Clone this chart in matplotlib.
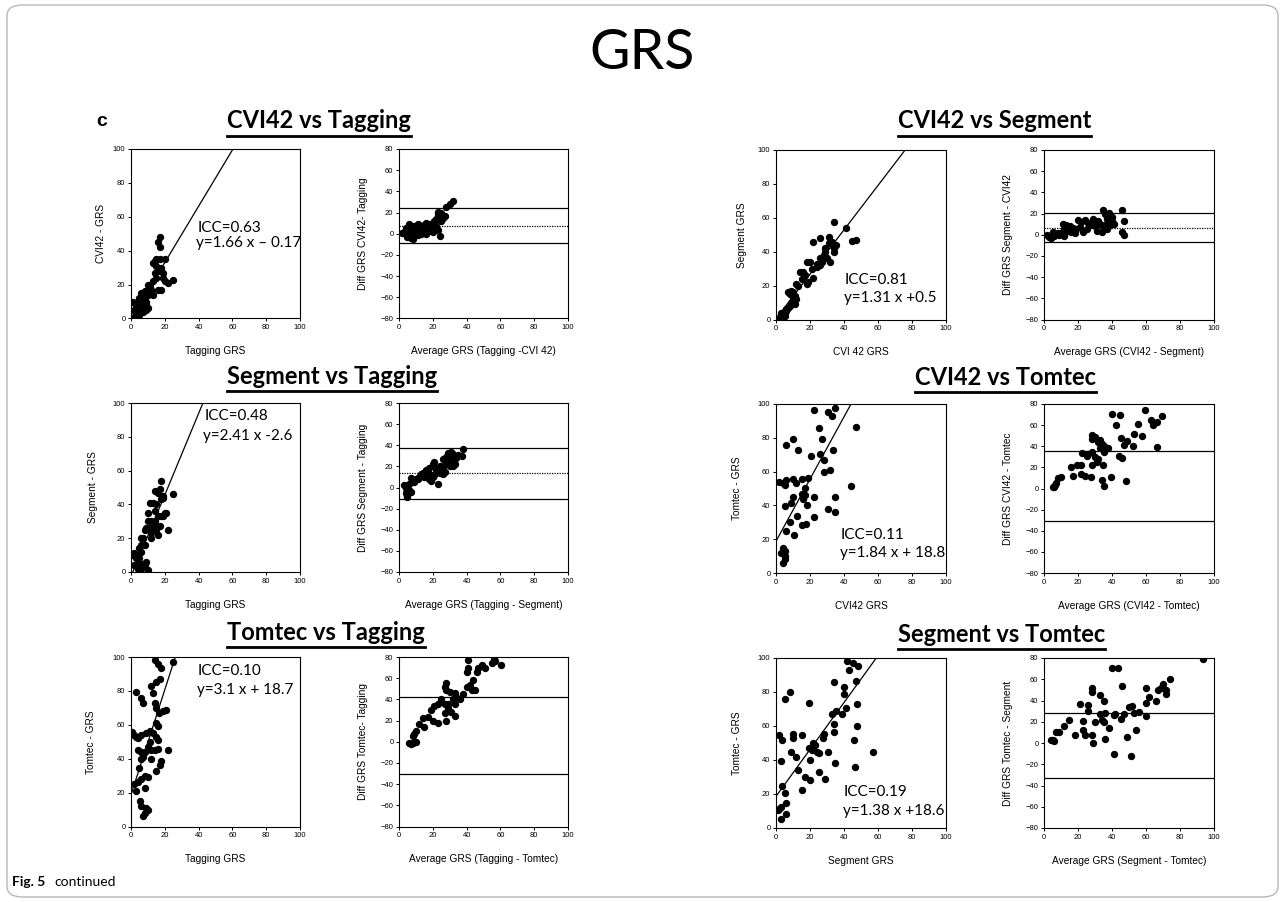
import matplotlib as mpl
mpl.use('Agg')
import matplotlib.pyplot as plt
from matplotlib.lines import Line2D
from matplotlib.patches import FancyBboxPatch

# ---- data ----
# CVI42 vs Tagging
cvi_tag_x = [1, 2, 3, 4, 5, 5, 6, 6, 7, 7, 8, 8, 9, 9, 10, 10, 11, 12, 13, 14, 14, 15, 15, 16, 17, 17,
             17, 18, 18, 19, 20, 20, 22, 25, 16, 13, 11, 4, 3, 2, 6, 7, 8, 9, 5, 4, 10, 12, 15, 16, 19, 13]
cvi_tag_y = [10, 5, 3, 8, 12, 2, 6, 15, 10, 4, 12, 16, 8, 5, 20, 14, 18, 15, 33, 34, 27, 24, 31, 45, 48, 35,
             42, 30, 17, 27, 35, 22, 21, 23, 17, 22, 19, 3, 8, 1, 9, 13, 7, 10, 7, 10, 6, 17, 35, 28, 24, 14]
cvi_tag_avg = [32, 30, 28, 25, 23, 22, 24, 26, 21, 24, 20, 18, 16, 15, 13, 11, 10, 9, 8, 7, 6, 5, 5, 4, 3,
               2, 6, 7, 8, 9, 10, 12, 14, 17, 19, 22, 23, 21, 23, 20, 11, 13, 15, 16, 18, 6, 4, 7, 25, 27]
cvi_tag_diff = [31, 28, 25, 20, 21, 14, 16, 15, 10, -2, 5, 3, 10, 5, 7, 9, 4, 2, -5, -2, 9, 4, -3, 0, 2,
                1, -1, 5, 3, 7, 1, 3, 2, 6, 8, 7, 4, 12, 19, 2, -1, 0, 8, 0, 9, 3, 5, -4, 12, 17]

# CVI42 vs Segment
cvi_seg_x = [34, 41, 44.5, 47, 22, 26, 31, 33, 34, 34, 33, 29, 29, 28, 24, 26, 30, 32, 20, 18, 22, 21, 16,
             14, 15, 17, 18, 19, 13, 12, 11, 10, 8, 7, 9, 10, 9, 8, 7, 6, 5, 4, 3, 5, 4, 6, 2, 3, 11, 12,
             26, 27, 31, 35, 24]
cvi_seg_y = [57.5, 54, 46.5, 47, 46, 48, 48.6, 45.7, 42, 40, 44, 42, 40, 38, 33, 32, 36, 34, 34, 34, 24.5,
             30, 28, 28, 24, 26, 21, 22, 20, 21, 14, 16, 15, 16, 17, 12, 10, 8, 7, 6, 4, 3, 2, 2, 1, 5, 1,
             4, 9, 12, 36, 34, 45, 44, 31]
cvi_seg_avg = [34.5, 46, 47, 46, 47, 38, 37, 40, 36, 39, 40, 33, 35, 34, 32, 29, 27, 30, 26, 24, 22, 23,
               20, 19, 17, 18, 15, 13, 12, 11, 10, 9, 8, 6, 5, 4, 3, 2, 7, 12, 14, 16, 21, 25, 28, 31, 36,
               38, 41, 37]
cvi_seg_diff = [23, 23, 13, 3, 0, 21, 15, 13, 9, 9, 17, 10, 7, 3, 13, 15, 9, 8, 11, 14, 12, 3, 14, 5, 6,
                2, 8, 9, 5, 10, 2, 0, 2, -1, 3, -3, -2, 0, 1, -1, 4, 3, 7, 5, 12, 4, 20, 12, 10, 5]

# Segment vs Tagging
seg_tag_x = [18, 25, 22, 14, 16, 17, 18, 19, 15, 13, 11, 14, 10, 16, 20, 21, 19, 17, 15, 16, 13, 12, 11, 9,
             8, 10, 12, 14, 7, 6, 5, 6, 4, 3, 1, 2, 4, 5, 6, 8, 9, 10, 7, 3, 2, 5, 6, 8, 12, 15, 18, 19]
seg_tag_y = [54, 46, 25, 48, 47, 49, 43, 45, 40, 41, 41, 36, 35, 33, 35, 35, 33, 27, 25, 22, 24, 20, 26, 26,
             25, 30, 30, 30, 20, 20, 14, 12, 10, 8, 10, 4, 2, 5, 2, 4, 6, 1, 5, 4, 11, 8, 16, 16, 23, 27, 33, 44]
seg_tag_avg = [38, 37, 30, 31, 32, 29, 27, 28, 26, 33, 32, 30, 27, 26, 24, 22, 21, 20, 18, 17, 16, 15, 14,
               13, 18, 19, 20, 21, 23, 12, 10, 8, 7, 6, 5, 5, 4, 5, 3, 4, 6, 7, 9, 11, 24, 25, 28, 31, 34,
               35, 29, 19, 15, 22, 26]
seg_tag_diff = [36, 30, 33, 34, 32, 27, 25, 29, 27, 22, 20, 20, 15, 13, 20, 18, 24, 22, 18, 15, 17, 12, 14,
                13, 8, 6, 10, 12, 3, 10, 8, 7, 9, 3, -3, -8, -5, -9, 2, 0, -2, -4, 5, 8, 14, 16, 22, 26, 28,
                31, 33, 12, 10, 15, 19]

# CVI42 vs Tomtec
cvi_tom_x = [22.5, 30.5, 33, 34.5, 47, 25, 10, 27, 6, 13, 33.5, 26, 20.5, 28, 28.5, 32, 2, 4, 5, 6, 10, 12,
             15, 19, 17, 44, 15, 17, 10, 16, 9, 5.5, 18.5, 22.5, 34.5, 30.5, 34.5, 12.5, 22.5, 15, 17.5,
             8.5, 6, 10.5, 4, 5, 3, 5, 5, 4]
cvi_tom_y = [96.5, 95, 93, 97.5, 86.5, 86, 79.5, 79, 76, 73, 73, 70.5, 69, 67, 60, 61, 54, 53.5, 52, 55,
             55.5, 53, 55.5, 56.5, 50.5, 51.5, 47, 46, 45, 43.5, 41.5, 39.5, 40, 45, 45, 38, 36, 34, 33,
             28.5, 29, 30, 25, 22.5, 15, 13, 12, 10, 8, 6]
cvi_tom_avg = [59.5, 40, 44.5, 63, 64, 66.5, 69.5, 42.5, 55.5, 53, 57.5, 28, 30, 28, 33, 31.5, 45, 47, 49,
               52.5, 66.5, 34, 35.5, 37.5, 33, 35, 22.5, 26, 28, 25.5, 30, 32, 28, 44, 46, 31, 34.5, 22,
               19.5, 16, 17, 22, 24, 27.5, 39.5, 34, 48, 35, 10, 8.5, 7, 6.5, 5, 6]
cvi_tom_diff = [74, 70.5, 70, 65, 60, 63, 69, 60.5, 61, 52, 50, 51, 49, 47, 46, 44, 48, 41, 45, 40, 39.5,
                42, 40, 38, 38, 35, 34, 33, 35, 31, 30, 28, 22, 31, 29, 25, 22, 22, 22, 20, 12, 14, 12, 11,
                11, 8, 7.5, 2.5, 11, 9.5, 5, 3, 1.5, 1]

# Tomtec vs Tagging
tom_tag_x = [14, 16, 18, 25, 17, 15, 12, 13, 3, 6, 7, 14, 15, 16.5, 19, 21, 15, 16, 0.5, 1.5, 3, 4, 6, 9,
             11, 13, 15, 16, 11, 10, 8, 7, 6, 6, 4, 12, 14, 16, 22, 18, 17, 15, 12, 5, 6, 4, 1.5, 3, 8, 10,
             8, 5.5, 6, 9, 10, 8, 7]
tom_tag_y = [98, 96, 93.5, 97, 87, 85, 83, 79, 79.5, 76, 73, 73, 70, 67, 68, 69, 61, 59.5, 56, 54, 53, 52,
             54, 55, 56.5, 55, 53, 51, 50, 47, 44, 41, 40, 44, 45, 45, 45, 46, 45, 38.5, 36, 33, 40, 34.5,
             28, 26, 25, 21, 30, 29, 22.5, 15, 12, 11, 10, 8, 6]
tom_tag_avg = [56, 57, 55, 41, 41, 40.5, 47, 49, 51, 60.5, 46, 44, 42, 40, 43, 45, 28, 27, 28, 30, 33, 34,
               36, 38, 32, 25, 23, 21, 27, 29, 33, 19, 17, 14, 15, 27, 29, 31, 33, 23, 28, 20, 12, 10, 9,
               8, 6, 8, 10, 7]
tom_tag_diff = [78, 76, 74, 77, 70, 66, 70, 72, 70, 72, 66, 58, 54, 52, 49, 49, 55, 52, 49, 47, 46, 42, 40,
                45, 40, 40, 36, 34, 36, 36, 36, 30, 23, 22, 14, 27, 32, 28, 24, 18, 20, 20, 17, 10, 7, 5,
                -1, -1, 0, -2]

# Segment vs Tomtec
seg_tom_x = [42, 45, 48.5, 43, 34, 47, 8.5, 5, 19.5, 40, 40, 47.5, 41, 33, 35, 39, 34, 47.5, 2, 3.5, 10,
             10, 15, 34, 27.5, 28, 22, 23, 46, 57, 19.5, 21, 24, 25, 30.5, 9, 11.5, 3, 20, 34.5, 46.5, 13,
             25, 17, 20, 29, 3.5, 5, 15, 1, 2, 3, 6, 6, 3]
seg_tom_y = [98, 97, 95.5, 93, 86, 86.5, 80, 76, 73.5, 83, 79, 73, 70.5, 67, 69, 67, 61, 60, 54.5, 52,
             55.5, 53, 55, 56.5, 53, 55.5, 50, 49, 52, 45, 47, 46, 45, 44, 45, 44.5, 41.5, 39.5, 40, 38, 36,
             34, 33, 30, 28.5, 29, 25, 20.5, 22.5, 10.5, 11, 12.5, 15, 8, 5.5]
seg_tom_avg = [93.5, 40, 43.5, 46, 60, 74, 70, 69, 71.5, 72, 67, 62, 60, 66, 60, 28, 28, 33, 35, 21, 26,
               26, 50, 52, 53, 56, 47, 45, 33, 36, 34, 35, 30, 38, 36, 41, 42, 54, 49, 29, 23, 23, 24, 28,
               18.5, 14.5, 12, 9, 7, 5, 6, 4, 41, 51]
seg_tom_diff = [79, 71, 71, 54, 52, 60, 56, 52, 50, 46, 50, 43, 38, 40, 25, 52, 48, 45, 40, 37, 36, 30,
                34, 35, 28, 29, 27, 23, 27, 28, 22, 20, 20, 14, 4, 26, 27, 12, 5.5, 0, 21, 12, 8, 8, 7.5,
                22, 16, 10, 10, 3, 2, 3, -10, -12]

# regression lines (slope, intercept) and annotation texts
fits = [(1.66, -0.17), (1.31, 0.5), (2.41, -2.6), (1.84, 18.8), (3.1, 18.7), (1.38, 18.6)]
icc_text = ["ICC=0.63", "ICC=0.81", "ICC=0.48", "ICC=0.11", "ICC=0.10", "ICC=0.19"]
eq_text = ["y=1.66 x \u2013 0.17", "y=1.31 x +0.5", "y=2.41 x -2.6", "y=1.84 x + 18.8",
           "y=3.1 x + 18.7", "y=1.38 x +18.6"]
# Bland-Altman lines: upper, mean (None = not drawn), lower
ba_lines = [(24.5, 7.5, -8.7), (20.4, 6.3, -7.2), (37.5, 13.3, -11), (35.2, None, -30.4),
            (42.3, None, -30), (28.6, None, -32.8)]

group_titles = ["CVI42 vs Tagging", "CVI42 vs Segment", "Segment vs Tagging", "CVI42 vs Tomtec",
                "Tomtec vs Tagging", "Segment vs Tomtec"]
sc_ylabels = ["CVI42 - GRS", "Segment GRS", "Segment - GRS", "Tomtec - GRS", "Tomtec - GRS", "Tomtec - GRS"]
sc_xlabels = ["Tagging GRS", "CVI 42 GRS", "Tagging GRS", "CVI42 GRS", "Tagging GRS", "Segment GRS"]
ba_ylabels = ["Diff GRS CVI42- Tagging", "Diff GRS Segment - CVI42", "Diff GRS Segment - Tagging",
              "Diff GRS CVI42 - Tomtec", "Diff GRS Tomtec- Tagging", "Diff GRS Tomtec - Segment"]
ba_xlabels = ["Average GRS (Tagging -CVI 42)", "Average GRS (CVI42 - Segment)",
              "Average GRS (Tagging - Segment)", "Average GRS (CVI42 - Tomtec)",
              "Average GRS (Tagging - Tomtec)", "Average GRS (Segment - Tomtec)"]

scatters = [(cvi_tag_x, cvi_tag_y), (cvi_seg_x, cvi_seg_y), (seg_tag_x, seg_tag_y),
            (cvi_tom_x, cvi_tom_y), (tom_tag_x, tom_tag_y), (seg_tom_x, seg_tom_y)]
blands = [(cvi_tag_avg, cvi_tag_diff), (cvi_seg_avg, cvi_seg_diff), (seg_tag_avg, seg_tag_diff),
          (cvi_tom_avg, cvi_tom_diff), (tom_tag_avg, tom_tag_diff), (seg_tom_avg, seg_tom_diff)]

# ---- layout (pixels of a 1284x902 canvas) ----
W, H = 1284, 902
rows_left = [(149, 318.5), (403, 572), (657, 826.5)]
rows_right = [(150, 319.5), (404, 573), (658, 828)]
cols = [(131, 300, 399, 568), (776, 946, 1044, 1214)]
ann_pos = [(39.4, 51, 38.6, 42), (40.6, 21.2, 40.2, 10.4), (43.3, 89.7, 42.5, 78.3),
           (37.8, 20, 37.8, 9.3), (39.4, 89.6, 39, 78), (39.8, 18.9, 39.2, 7.9)]
title_pos = [(227, 128, 136), (898, 128, 136), (227, 384, 391), (915, 385, 392),
             (227, 640, 647), (898, 641.5, 648.5)]
sc_ylab_x = [-0.148, -0.17, -0.195, -0.2, -0.207, -0.2]

lab_font = 'Liberation Sans'
cal_font = ['Lato', 'DejaVu Sans']


def rect(l, t, r, b):
    return [l / W, 1 - b / H, (r - l) / W, (b - t) / H]


def style(ax):
    for s in ax.spines.values():
        s.set_linewidth(0.8)
    ax.tick_params(direction='out', length=2.2, width=0.7, pad=1.8, labelsize=5.5,
                   top=False, right=False)
    for lab in ax.get_xticklabels() + ax.get_yticklabels():
        lab.set_fontfamily('Liberation Sans')


fig = plt.figure(figsize=(W / 100, H / 100), dpi=100)

# rounded frame round the whole figure
frame = FancyBboxPatch((7 / W, 5 / H), 1271 / W, 892 / H,
                       boxstyle="round,pad=0,rounding_size=0.012",
                       transform=fig.transFigure, fill=False, edgecolor='#b8b8b8', linewidth=1)
fig.add_artist(frame)

fig.text(642 / W, 1 - 69 / H, "GRS", fontsize=40, family=cal_font, ha='center', va='baseline')
fig.text(96 / W, 1 - 126 / H, "c", fontsize=14, family='Liberation Sans', weight='bold',
         va='baseline')

title_artists = []
for i in range(6):
    r, c = divmod(i, 2)
    top, bot = (rows_left if c == 0 else rows_right)[r]
    sl, sr, bl, br = cols[c]

    # scatter with regression line
    ax = fig.add_axes(rect(sl, top, sr, bot))
    xs, ys = scatters[i]
    ax.plot(xs, ys, 'o', color='black', markersize=5.3, markeredgewidth=0, zorder=3)
    a, b = fits[i]
    ax.plot([0, (100 - b) / a], [b, 100], color='black', linewidth=0.9, zorder=2)
    ax.set_xlim(0, 100)
    ax.set_ylim(0, 100)
    ax.set_xticks(range(0, 101, 20))
    ax.set_yticks(range(0, 101, 20))
    style(ax)
    ax.set_ylabel(sc_ylabels[i], fontsize=7.3, family=lab_font)
    ax.set_xlabel(sc_xlabels[i], fontsize=7.3, family=lab_font)
    ax.yaxis.set_label_coords(sc_ylab_x[i], 0.5)
    ax.xaxis.set_label_coords(0.5, -0.165)
    x1, y1, x2, y2 = ann_pos[i]
    ax.text(x1, y1, icc_text[i], fontsize=11, family=cal_font, va='baseline')
    ax.text(x2, y2, eq_text[i], fontsize=11, family=cal_font, va='baseline')

    # Bland-Altman
    ax = fig.add_axes(rect(bl, top, br, bot))
    av, df = blands[i]
    ax.plot(av, df, 'o', color='black', markersize=5.3, markeredgewidth=0, zorder=3)
    up, mean, low = ba_lines[i]
    ax.axhline(up, color='black', linewidth=0.9)
    ax.axhline(low, color='black', linewidth=0.9)
    if mean is not None:
        ax.axhline(mean, color='black', linewidth=0.9, linestyle=(0, (1, 1)))
    ax.set_xlim(0, 100)
    ax.set_ylim(-80, 80)
    ax.set_xticks(range(0, 101, 20))
    ax.set_yticks(range(-80, 81, 20))
    style(ax)
    ax.set_ylabel(ba_ylabels[i], fontsize=7.3, family=lab_font)
    ax.set_xlabel(ba_xlabels[i], fontsize=7.3, family=lab_font)
    ax.yaxis.set_label_coords(-0.185, 0.5)
    ax.xaxis.set_label_coords(0.5, -0.165)

    # bold, underlined group title
    tx, ty, uy = title_pos[i]
    t = fig.text(tx / W, 1 - ty / H, group_titles[i], fontsize=17, family=cal_font,
                 weight='bold', va='baseline')
    title_artists.append((t, uy))

fig.text(12 / W, 1 - 886 / H, "Fig. 5", fontsize=10, family=cal_font, weight='bold',
         va='baseline')
fig.text(54 / W, 1 - 886 / H, "continued", fontsize=10, family=cal_font, va='baseline')

# underline the titles
renderer = fig.canvas.get_renderer()
for t, uy in title_artists:
    bb = t.get_window_extent(renderer)
    fig.add_artist(Line2D([bb.x0 / W, bb.x1 / W], [1 - uy / H, 1 - uy / H],
                          transform=fig.transFigure, color='black', linewidth=2))

fig.savefig('out.png', dpi=100)
